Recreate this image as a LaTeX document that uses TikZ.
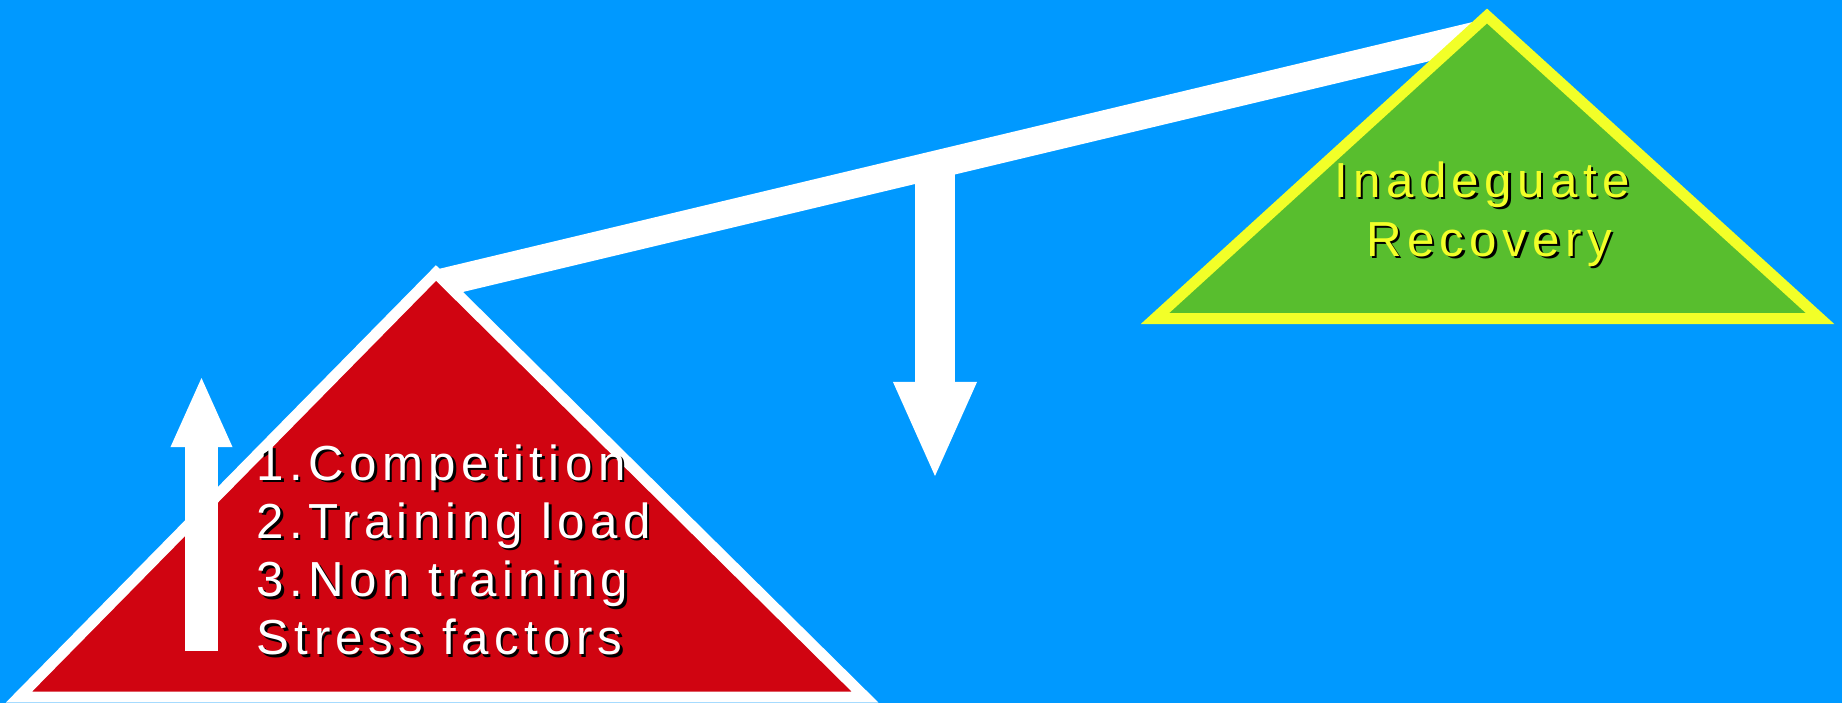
\documentclass[tikz,border=0pt]{standalone}
\usepackage{fontspec}
\newfontfamily\slidefont{Liberation Sans}[LetterSpace=11]
\usetikzlibrary{arrows.meta}
\definecolor{slideblue}{RGB}{0, 153, 255}
\definecolor{loadred}{RGB}{208, 4, 17}
\definecolor{recgreen}{RGB}{88, 190, 46}
\definecolor{recyellow}{RGB}{242, 255, 40}

\begin{document}
\begin{tikzpicture}[
    x=0.01cm, y=-0.01cm,
    beam/.style={white, line width=0.28cm},
    blockarrow/.style={white, line width=#1},
    slidetext/.style={inner sep=0pt, font=\slidefont\fontsize{14pt}{16.6pt}\selectfont},
]

% --- Canvas ---
\useasboundingbox (0,0) rectangle (1842,703);
\fill[slideblue] (0,0) rectangle (1842,703);

% --- Seesaw beam and pivot ---
\coordinate (beamL) at (436,284);
\coordinate (beamR) at (1487,33);
\coordinate (pivot) at (935,166);
\coordinate (pivottip) at (935,476);
\draw[beam] (beamL) -- (beamR);
\draw[blockarrow=0.40cm, -{Triangle[width=0.84cm, length=0.94cm, line width=0pt]}]
    (pivot) -- (pivottip);

% --- Load triangle (left) ---
\filldraw[fill=loadred, draw=white, line width=0.11cm]
    (436,273) -- (19,697) -- (865,697) -- cycle;

% --- Recovery triangle (right) ---
\filldraw[fill=recgreen, draw=recyellow, line width=0.11cm]
    (1487,16) -- (1155,318.5) -- (1820,318.5) -- cycle;

% --- Rising load arrow ---
\coordinate (riseL) at (201.5,651);
\coordinate (riseT) at (201.5,378);
\draw[blockarrow=0.33cm, -{Triangle[width=0.62cm, length=0.69cm, line width=0pt]}]
    (riseL) -- (riseT);

% --- Stress list ---
\foreach \t [count=\i] in {1.Competition, 2.Training load, 3.Non training, Stress factors} {
    \node[slidetext, anchor=base west, text=black]
        (list\i-shadow) at (258.5, {482.5+58.3*(\i-1)}) {\t};
    \node[slidetext, anchor=base west, text=white]
        (list\i) at (256, {480+58.3*(\i-1)}) {\t};
}

% --- Recovery label ---
\node[slidetext, anchor=base, text=black] (rec1-shadow) at (1484.5,199.5) {Inadeguate};
\node[slidetext, anchor=base, text=recyellow] (rec1) at (1482,197) {Inadeguate};
\node[slidetext, anchor=base, text=black] (rec2-shadow) at (1491.5,258.5) {Recovery};
\node[slidetext, anchor=base, text=recyellow] (rec2) at (1489,256) {Recovery};

\end{tikzpicture}
\end{document}
